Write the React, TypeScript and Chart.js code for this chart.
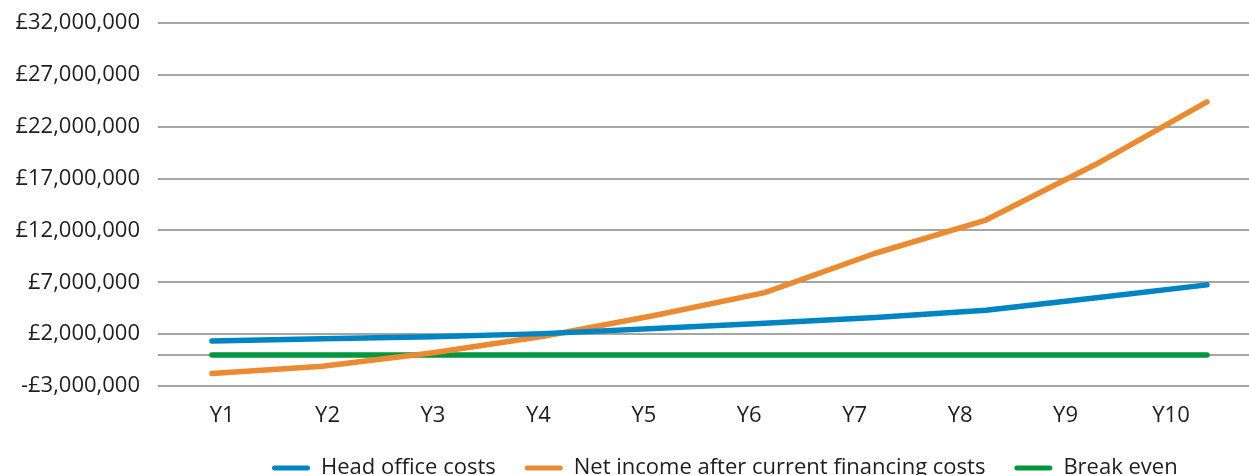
import React, { useEffect, useRef } from 'react';
import { Chart, registerables } from 'chart.js';

Chart.register(...registerables);

const categories = ['Y1', 'Y2', 'Y3', 'Y4', 'Y5', 'Y6', 'Y7', 'Y8', 'Y9', 'Y10'];
const headOfficeCosts = [1350000, 1550000, 1750000, 2050000, 2550000, 3050000, 3600000, 4300000, 5500000, 6750000];
const netIncome = [-1800000, -1100000, 200000, 1800000, 3800000, 6000000, 9800000, 13000000, 18400000, 24400000];
const breakEven = [0, 0, 0, 0, 0, 0, 0, 0, 0, 0];
const yTicks = [-3000000, 0, 2000000, 7000000, 12000000, 17000000, 22000000, 27000000, 32000000];
const seriesNames = ['Head office costs', 'Net income after current financing costs', 'Break even'];
const seriesColors = ['#0084c2', '#ea8b33', '#00953f'];

const FONT = "'Open Sans', sans-serif";
const TEXT = '#1e1e1e';

function fmt(v: number): string {
  const abs = Math.abs(v);
  const s = String(abs).replace(/\B(?=(\d{3})+(?!\d))/g, ',');
  return (v < 0 ? '-£' : '£') + s;
}

const legendPlacer = {
  id: 'legendPlacer',
  afterLayout(chart: any) {
    const l = chart.legend;
    if (!l || !l.lineWidths) return;
    const p = l.options.labels.padding;
    const start = (l.left + p + l.right - l.lineWidths[0]) / 2;
    const dx = 272 - start;
    l.left += dx;
    l.right += dx;
    const dy = 457 - p - l.top;
    l.top += dy;
    l.bottom += dy;
  },
};

export default function App() {
  const ref = useRef<HTMLCanvasElement | null>(null);

  useEffect(() => {
    if (!ref.current) return;
    const datasets = [headOfficeCosts, netIncome, breakEven].map((arr, k) => ({
      label: seriesNames[k],
      data: arr.map((v, i) => ({ x: i, y: v })),
      borderColor: seriesColors[k],
      backgroundColor: seriesColors[k],
      borderWidth: 5.5,
      borderCapStyle: 'round' as const,
      borderJoinStyle: 'round' as const,
      pointRadius: 0,
      pointHoverRadius: 0,
      tension: 0,
      xAxisID: 'x',
      yAxisID: 'y',
    }));

    const chart = new Chart(ref.current, {
      type: 'line',
      data: { datasets },
      plugins: [legendPlacer],
      options: {
        responsive: false,
        animation: false,
        maintainAspectRatio: false,
        layout: { padding: { top: 23, right: 0, left: 0, bottom: 0 } },
        scales: {
          x: {
            type: 'linear',
            display: false,
            min: -0.488,
            max: 9.38,
          },
          xl: {
            type: 'linear',
            position: 'bottom',
            min: -0.608,
            max: 9.74,
            grid: { display: false, drawTicks: false },
            border: { display: false },
            afterBuildTicks: (axis: any) => {
              axis.ticks = categories.map((_, i) => ({ value: i }));
            },
            afterFit: (axis: any) => {
              axis.height = 44;
            },
            ticks: {
              padding: 17,
              autoSkip: false,
              maxRotation: 0,
              color: TEXT,
              font: { family: FONT, size: 22 },
              callback: (v: any) => categories[Number(v)] ?? '',
            },
          },
          y: {
            type: 'linear',
            min: -3000000,
            max: 32000000,
            afterBuildTicks: (axis: any) => {
              axis.ticks = yTicks.map((v) => ({ value: v }));
            },
            afterFit: (axis: any) => {
              axis.width = 158;
              axis.paddingTop = 0;
              axis.paddingBottom = 0;
            },
            grid: { color: '#a5a5a5', lineWidth: 2, drawTicks: false },
            border: { display: false },
            ticks: {
              padding: 18,
              color: TEXT,
              font: { family: FONT, size: 22 },
              callback: (v: any) => (Number(v) === 0 ? '' : fmt(Number(v))),
            },
          },
        },
        plugins: {
          tooltip: { enabled: false },
          legend: {
            position: 'bottom',
            align: 'center',
            labels: {
              boxWidth: 38,
              boxHeight: 5,
              padding: 29,
              color: TEXT,
              font: { family: FONT, size: 22 },
              generateLabels: (c: any) => {
                const items = Chart.defaults.plugins.legend.labels.generateLabels(c);
                return items.map((it: any) => ({ ...it, lineWidth: 0, borderRadius: 2.5 }));
              },
            },
          },
        },
      },
    });
    return () => chart.destroy();
  }, []);

  return (
    <div style={{ position: 'fixed', left: 0, top: 0, width: 1249, height: 475, overflow: 'hidden', background: '#fff' }}>
      <canvas ref={ref} width={1249} height={491} style={{ display: 'block', width: 1249, height: 491 }} />
    </div>
  );
}
